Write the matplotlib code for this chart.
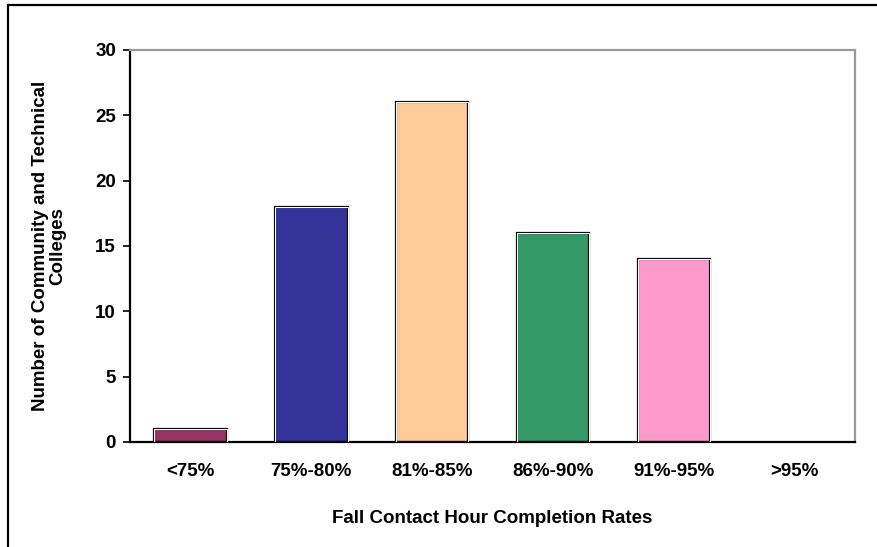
import numpy as np
import matplotlib
matplotlib.use("Agg")
import matplotlib.pyplot as plt
from matplotlib.patches import Rectangle

# completion rate bins and number of colleges in each
categories = ["<75%", "75%-80%", "81%-85%", "86%-90%", "91%-95%", ">95%"]
counts = [1, 18, 26, 16, 14, 0]
colors = ["#993366", "#333399", "#FFCC99", "#339966", "#FF99CC", "#FFFFFF"]

plt.rcParams["font.family"] = ["Liberation Sans", "DejaVu Sans"]
plt.rcParams["font.weight"] = "bold"

W, H = 877, 547
fs = 13.5
fig = plt.figure(figsize=(W / 100, H / 100), dpi=100)
ax = fig.add_axes([130 / W, 1 - 442 / H, 725 / W, 392 / H])

x = np.arange(len(categories))
width = 0.6
for i, (v, c) in enumerate(zip(counts, colors)):
    if v <= 0:
        continue
    # black outline with white inner edge, like the excel style
    ax.bar(x[i], v, width=width, color=c, edgecolor="black", linewidth=1.6, zorder=2)
    ax.bar(x[i], v, width=width, color="none", edgecolor="white", linewidth=0.8, zorder=3)

ax.set_xlim(-0.5, len(categories) - 0.5)
ax.set_ylim(0, 30)
ax.set_yticks([0, 5, 10, 15, 20, 25, 30])
ax.set_xticks(x)
ax.set_xticklabels(categories)
ax.tick_params(axis="x", length=0, pad=15, labelsize=fs)
ax.tick_params(axis="y", length=5, width=1.2, pad=5, labelsize=fs)

for s in ["left", "bottom"]:
    ax.spines[s].set_color("black")
    ax.spines[s].set_linewidth(1.6)
for s in ["top", "right"]:
    ax.spines[s].set_color("#999999")
    ax.spines[s].set_linewidth(1.6)

ax.set_xlabel("Fall Contact Hour Completion Rates", fontsize=fs, fontweight="bold", labelpad=22)
ax.set_ylabel("Number of Community and Technical\nColleges", fontsize=fs, fontweight="bold",
              labelpad=21, linespacing=1.05)

# outer chart border (only left and top visible in the crop)
fig.patches.append(Rectangle((8 / W, -0.05), 1.2, 1 - 5 / H + 0.05, transform=fig.transFigure,
                             fill=False, edgecolor="black", linewidth=1.6))

fig.savefig("out.png", dpi=100)
